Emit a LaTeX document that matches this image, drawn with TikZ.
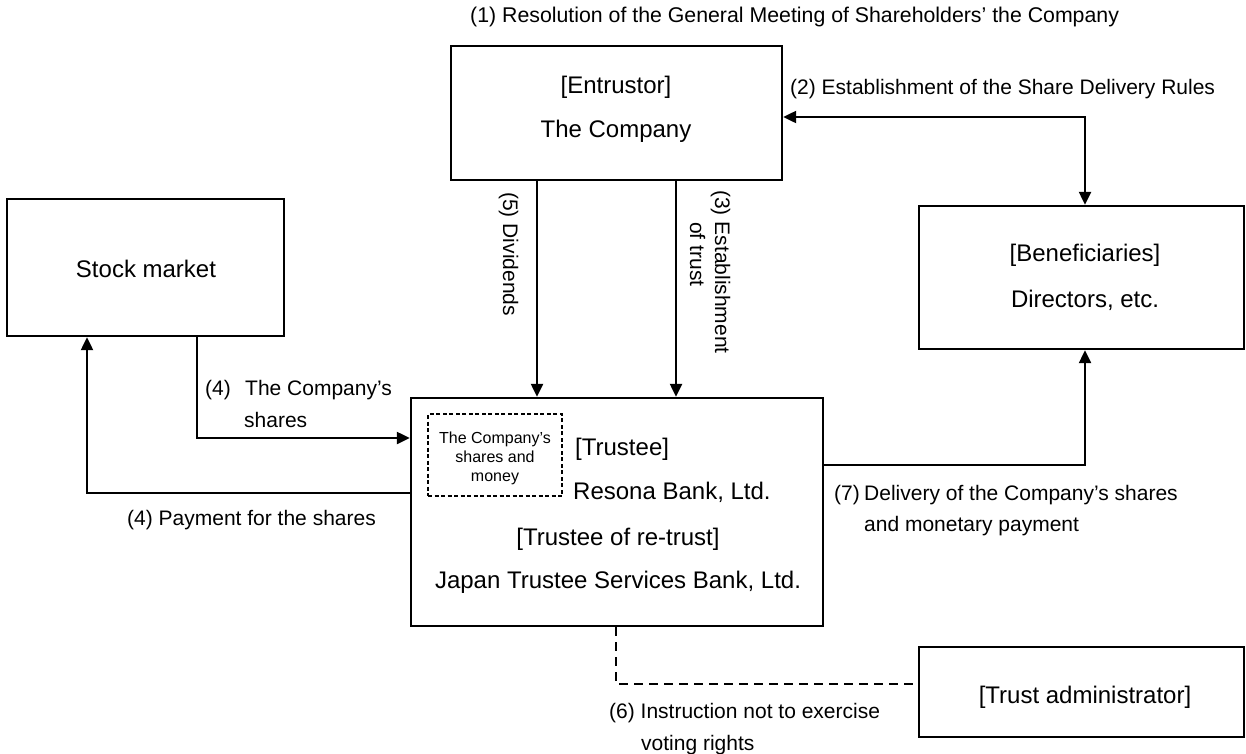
\documentclass[tikz,border=0pt]{standalone}
\usepackage{fontspec}
\setmainfont{Liberation Sans}
\usetikzlibrary{arrows.meta}
\begin{document}
\begin{tikzpicture}[x=1pt,y=-1pt,
  box/.style={draw, line width=2.4pt, inner sep=0pt, rectangle},
  innerbox/.style={draw, line width=1.6pt, dash pattern=on 4pt off 2.5pt, inner sep=0pt, rectangle},
  conn/.style={line width=2.3pt},
  arr/.style={conn, -{Triangle[length=13pt,width=12pt]}},
  dblarr/.style={conn, {Triangle[length=13pt,width=12pt]}-{Triangle[length=13pt,width=12pt]}},
  dashconn/.style={conn, dash pattern=on 9pt off 6pt},
  nodetext/.style={inner sep=0pt, font=\fontsize{24}{28}\selectfont},
  labeltext/.style={inner sep=0pt, font=\fontsize{21}{25}\selectfont},
  titletext/.style={inner sep=0pt, font=\fontsize{21.3}{25}\selectfont},
  smalltext/.style={inner sep=0pt, font=\fontsize{16}{19}\selectfont}
]
\path[use as bounding box] (0,0) rectangle (1246,753);

% boxes
\node[box, minimum width=331pt, minimum height=134pt] (ent) at (616.5,113) {};
\node[box, minimum width=277pt, minimum height=137pt] (stock) at (145.5,267.5) {};
\node[box, minimum width=325pt, minimum height=143pt] (ben) at (1081.5,277.5) {};
\node[box, minimum width=412pt, minimum height=228pt] (tru) at (617,512) {};
\node[innerbox, minimum width=134pt, minimum height=82pt] (inner) at (495,455) {};
\node[box, minimum width=325pt, minimum height=90pt] (adm) at (1081.5,692) {};

% box texts
\node[nodetext, anchor=base] (entA) at (616,93) {[Entrustor]};
\node[nodetext, anchor=base] (entB) at (616,137) {The Company};
\node[nodetext, anchor=base] (stockT) at (146,277) {Stock market};
\node[nodetext, anchor=base] (benA) at (1085,261) {[Beneficiaries]};
\node[nodetext, anchor=base] (benB) at (1085,307) {Directors, etc.};
\node[nodetext, anchor=base west] (truA) at (575,455) {[Trustee]};
\node[nodetext, anchor=base west] (truB) at (573,499) {Resona Bank, Ltd.};
\node[nodetext, anchor=base] (truC) at (618,545) {[Trustee of re-trust]};
\node[nodetext, anchor=base] (truD) at (618,588) {Japan Trustee Services Bank, Ltd.};
\node[smalltext, anchor=base] (inA) at (495,443) {The Company’s};
\node[smalltext, anchor=base] (inB) at (495,462) {shares and};
\node[smalltext, anchor=base] (inC) at (495,481) {money};
\node[nodetext, anchor=base] (admT) at (1085,703) {[Trust administrator]};

% helper coordinates
\coordinate (k5) at (537,0);
\coordinate (k3) at (676,0);
\coordinate (k2) at (1085,117);
\coordinate (k4) at (197,438);
\coordinate (p4) at (87,493);
\coordinate (k7) at (1085,465);
\coordinate (k6) at (616,684);

% connectors
\draw[arr] (ent.south -| k5) -- (tru.north -| k5);
\draw[arr] (ent.south -| k3) -- (tru.north -| k3);
\draw[dblarr] (ent.east |- k2) -- (k2) -- (ben.north -| k2);
\draw[arr] (stock.south -| k4) -- (k4) -- (tru.west |- k4);
\draw[arr] (tru.west |- p4) -- (p4) -- (stock.south -| p4);
\draw[arr] (tru.east |- k7) -- (k7) -- (ben.south -| k7);
\draw[dashconn] (tru.south -| k6) -- (k6) -- (adm.west |- k6);

% labels
\node[titletext, anchor=base west] (l1) at (470,22) {(1) Resolution of the General Meeting of Shareholders’ the Company};
\node[labeltext, anchor=base west] (l2) at (790,94) {(2) Establishment of the Share Delivery Rules};
\node[labeltext, anchor=base west, rotate=-90] (l5) at (503,192) {(5) Dividends};
\node[labeltext, anchor=base west, rotate=-90] (l3a) at (715,190) {(3) Establishment};
\node[labeltext, anchor=base west, rotate=-90] (l3b) at (690,222) {of trust};
\node[labeltext, anchor=base west] (l4a) at (205,395) {(4)};
\node[labeltext, anchor=base west] (l4b) at (245,395) {The Company’s};
\node[labeltext, anchor=base west] (l4c) at (244,427) {shares};
\node[labeltext, anchor=base east] (l4d) at (376,525) {(4) Payment for the shares};
\node[labeltext, anchor=base west] (l7a) at (834,500) {(7)};
\node[labeltext, anchor=base west] (l7b) at (864,500) {Delivery of the Company’s shares};
\node[labeltext, anchor=base west] (l7c) at (864,531) {and monetary payment};
\node[labeltext, anchor=base west] (l6a) at (609,718) {(6) Instruction not to exercise};
\node[labeltext, anchor=base west] (l6b) at (641,750) {voting rights};
\end{tikzpicture}
\end{document}
